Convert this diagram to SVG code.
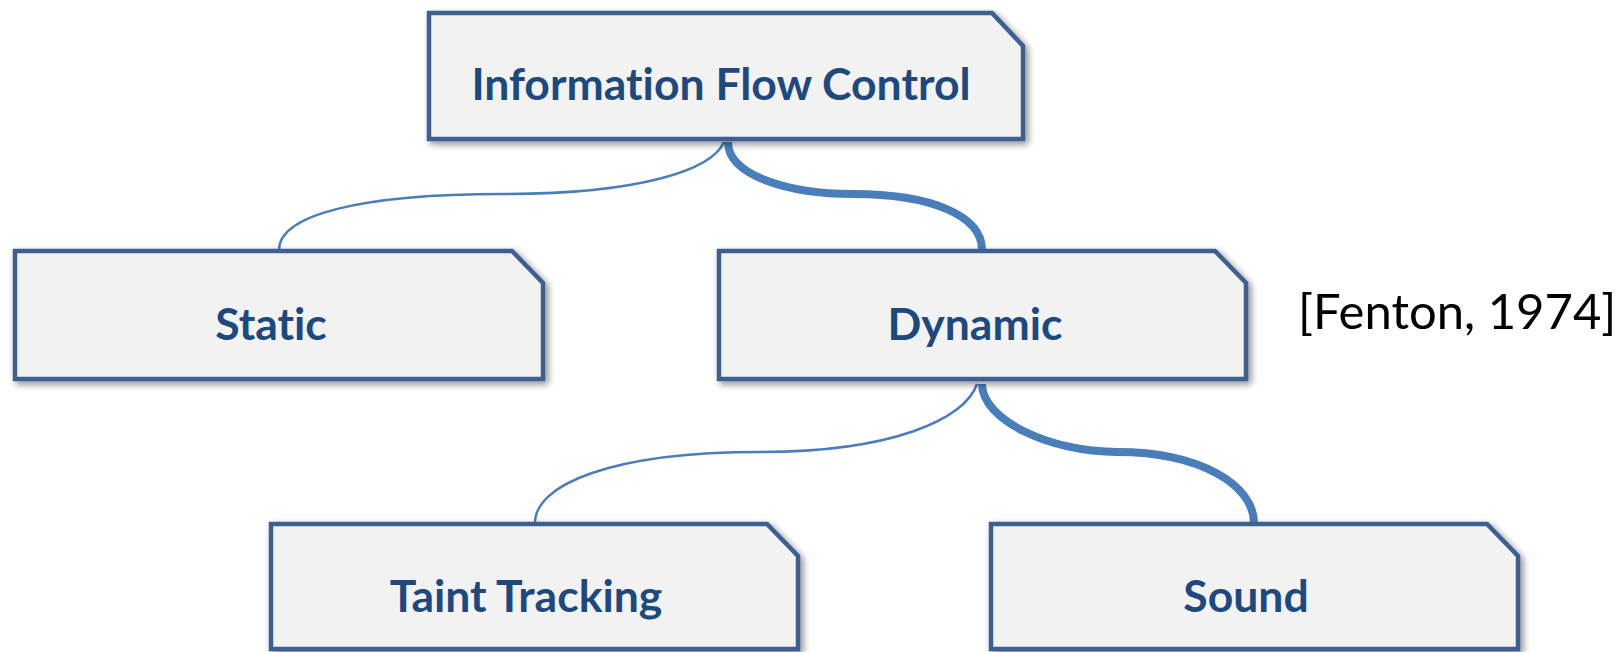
<svg xmlns="http://www.w3.org/2000/svg" width="1621" height="652" viewBox="0 0 1621 652">
  <style>
    .box { fill: #F2F2F2; stroke: #3C6190; stroke-width: 4.5; stroke-linejoin: miter; filter: url(#shadow); }
    .label { font-family: Lato, "Open Sans", sans-serif; font-weight: bold; font-size: 44.5px; fill: #1F497D; text-anchor: middle; font-variant-ligatures: none; }
    .thin { fill: none; stroke: #4A7EBB; stroke-width: 2.5; }
    .thick { fill: none; stroke: #4A7EBB; stroke-width: 8; }
    .cite { font-family: Lato, "Open Sans", sans-serif; font-size: 49px; fill: #000000; }
  </style>
  <defs>
    <filter id="shadow" x="-10%" y="-20%" width="120%" height="140%">
      <feGaussianBlur in="SourceAlpha" stdDeviation="3.5"/>
      <feOffset dx="3" dy="3" result="blur"/>
      <feComponentTransfer><feFuncA type="linear" slope="0.45"/></feComponentTransfer>
      <feMerge><feMergeNode/><feMergeNode in="SourceGraphic"/></feMerge>
    </filter>
  </defs>
  <rect width="1621" height="652" fill="#FFFFFF"/>

  <!-- tree connectors -->
  <g id="connectors">
    <path class="thin" d="M 724,142 C 712,170 640,194 503,194 C 360,194 279,215 279,250"/>
    <path class="thick" d="M 728,142 C 728,176 790,194 853,194 C 930,194 982,215 982,250"/>
    <path class="thin" d="M 977,384 C 965,420 890,452 760,452 C 610,452 535,485 535,523"/>
    <path class="thick" d="M 982,384 C 982,420 1050,452 1117,452 C 1200,452 1254,485 1254,523"/>
  </g>

  <g id="node-ifc">
    <path class="box" d="M 429,13 L 992,13 L 1023,46 L 1023,139 L 429,139 Z"/>
    <text class="label" x="721" y="100">Information Flow Control</text>
  </g>

  <g id="node-static">
    <path class="box" d="M 15,251 L 512,251 L 543,283 L 543,379 L 15,379 Z"/>
    <text class="label" x="271" y="340">Static</text>
  </g>

  <g id="node-dynamic">
    <path class="box" d="M 719,251 L 1215,251 L 1246,283 L 1246,379 L 719,379 Z"/>
    <text class="label" x="975" y="340">Dynamic</text>
  </g>

  <g id="node-taint">
    <path class="box" d="M 271,524 L 767,524 L 798,556 L 798,649 L 271,649 Z"/>
    <text class="label" x="526" y="612">Taint Tracking</text>
  </g>

  <g id="node-sound">
    <path class="box" d="M 991,524 L 1487,524 L 1518,556 L 1518,649 L 991,649 Z"/>
    <text class="label" x="1246" y="612">Sound</text>
  </g>

  <text class="cite" x="1298" y="329">[Fenton, 1974]</text>
</svg>
